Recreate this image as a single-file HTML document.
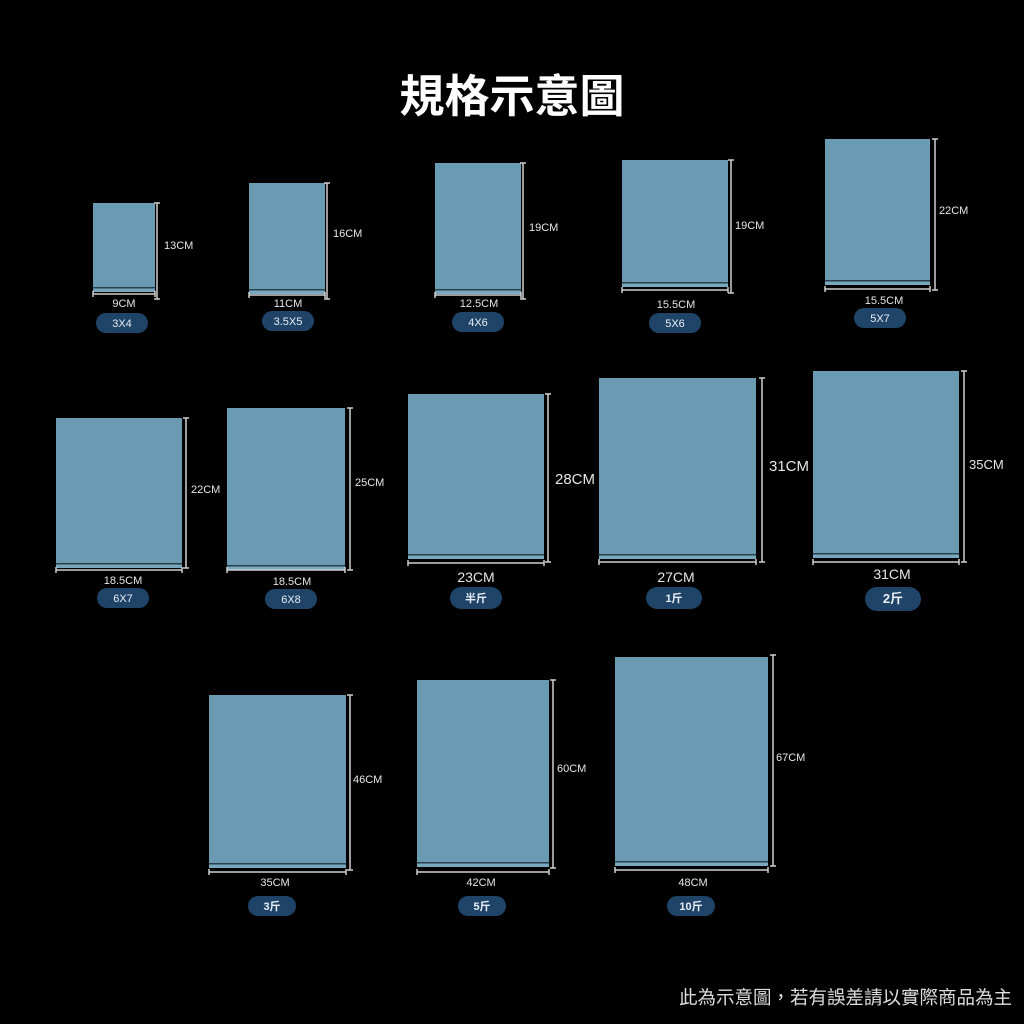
<!DOCTYPE html>
<html><head><meta charset="utf-8"><style>
html,body{margin:0;padding:0;background:#000;width:1024px;height:1024px;overflow:hidden}
svg{display:block}
text{font-family:"Liberation Sans","Noto Sans CJK TC",sans-serif;fill:#fff}
.d{fill:#e6e6e6;font-size:11px}
.p{font-size:11px;fill:#e8eef4}
</style></head><body>
<svg width="1024" height="1024" viewBox="0 0 1024 1024">
<text x="512" y="112" text-anchor="middle" font-size="45" font-weight="bold" style="font-family:'Noto Sans CJK TC',sans-serif">規格示意圖</text>
<g id="bags"></g>
<text x="1012" y="1004" text-anchor="end" font-size="18.5" style="fill:#ddd;font-family:'Noto Sans CJK TC',sans-serif">此為示意圖，若有誤差請以實際商品為主</text>
</svg>
<script>
var B=[
[93,155,203,292,157,203,299,294,"9CM",124,307,122,323,52,20,"3X4","13CM",164,249,11,0],
[249,325,183,294,327,183,299,295,"11CM",288,307,288,321,52,20,"3.5X5","16CM",333,237,11,0],
[435,521,163,294,523,163,299,295,"12.5CM",479,307,478,322,52,20,"4X6","19CM",529,231,11,0],
[622,728,160,287,731,160,293,290,"15.5CM",676,308,675,323,52,20,"5X6","19CM",735,229,11,0],
[825,930,139,285,935,139,290,289,"15.5CM",884,304,880,318,52,20,"5X7","22CM",939,214,11,0],
[56,182,418,568,186,418,568,570,"18.5CM",123,584,123,598,52,20,"6X7","22CM",191,493,11,0],
[227,345,408,570,350,408,570,570,"18.5CM",292,585,291,599,52,20,"6X8","25CM",355,486,11,0],
[408,544,394,559,548,394,562,563,"23CM",476,582,476,598,52,22,"半斤","28CM",555,484,15,1],
[599,756,378,559,762,378,562,562,"27CM",676,582,674,598,56,22,"1斤","31CM",769,471,15,1],
[813,959,371,558,964,371,562,562,"31CM",892,579,893,599,56,24,"2斤","35CM",969,469,13,1],
[209,346,695,868,350,695,870,872,"35CM",275,886,272,906,48,20,"3斤","46CM",353,783,11,1],
[417,549,680,867,553,680,868,872,"42CM",481,886,482,906,48,20,"5斤","60CM",557,772,11,1],
[615,768,657,866,773,655,866,870,"48CM",693,886,691,906,48,20,"10斤","67CM",776,761,11,1]
];
var s="";
B.forEach(function(b){
var x1=b[0],x2=b[1],t=b[2],bt=b[3],vx=b[4],vt=b[5],vb=b[6],hy=b[7];
var fs=b[19];var hs=(b[20]&&fs>=13)?14:11;
s+='<rect x="'+x1+'" y="'+t+'" width="'+(x2-x1)+'" height="'+(bt-t)+'" fill="#6a9bb2"/>';
s+='<rect x="'+x1+'" y="'+(bt-5)+'" width="'+(x2-x1)+'" height="1.5" fill="#2a3f4c"/>';
s+='<rect x="'+x1+'" y="'+(bt-3.5)+'" width="'+(x2-x1)+'" height="3.5" fill="#78a8be"/>';
s+='<g stroke="#cfcfcf" stroke-width="1.5" fill="none"><line x1="'+vx+'" y1="'+vt+'" x2="'+vx+'" y2="'+vb+'"/><line x1="'+(vx-3)+'" y1="'+vt+'" x2="'+(vx+3)+'" y2="'+vt+'"/><line x1="'+(vx-3)+'" y1="'+vb+'" x2="'+(vx+3)+'" y2="'+vb+'"/>';
s+='<line x1="'+x1+'" y1="'+hy+'" x2="'+x2+'" y2="'+hy+'"/><line x1="'+x1+'" y1="'+(hy-3)+'" x2="'+x1+'" y2="'+(hy+3)+'"/><line x1="'+x2+'" y1="'+(hy-3)+'" x2="'+x2+'" y2="'+(hy+3)+'"/></g>';
s+='<text class="d" x="'+b[9]+'" y="'+b[10]+'" text-anchor="middle" style="font-size:'+hs+'px">'+b[8]+'</text>';
var pw=b[13],ph=b[14];
s+='<rect x="'+(b[11]-pw/2)+'" y="'+(b[12]-ph/2)+'" width="'+pw+'" height="'+ph+'" rx="'+ph/2+'" fill="#1f4468"/>';
s+='<text class="p" x="'+b[11]+'" y="'+(b[12]+4)+'" text-anchor="middle"'+(b[20]?' font-weight="bold"':'')+(b[20]&&fs==13?' style="font-size:13px"':'')+'>'+b[15]+'</text>';
s+='<text class="d" x="'+b[17]+'" y="'+b[18]+'" style="font-size:'+fs+'px">'+b[16]+'</text>';
});
document.getElementById("bags").innerHTML=s;
</script>
</body></html>
